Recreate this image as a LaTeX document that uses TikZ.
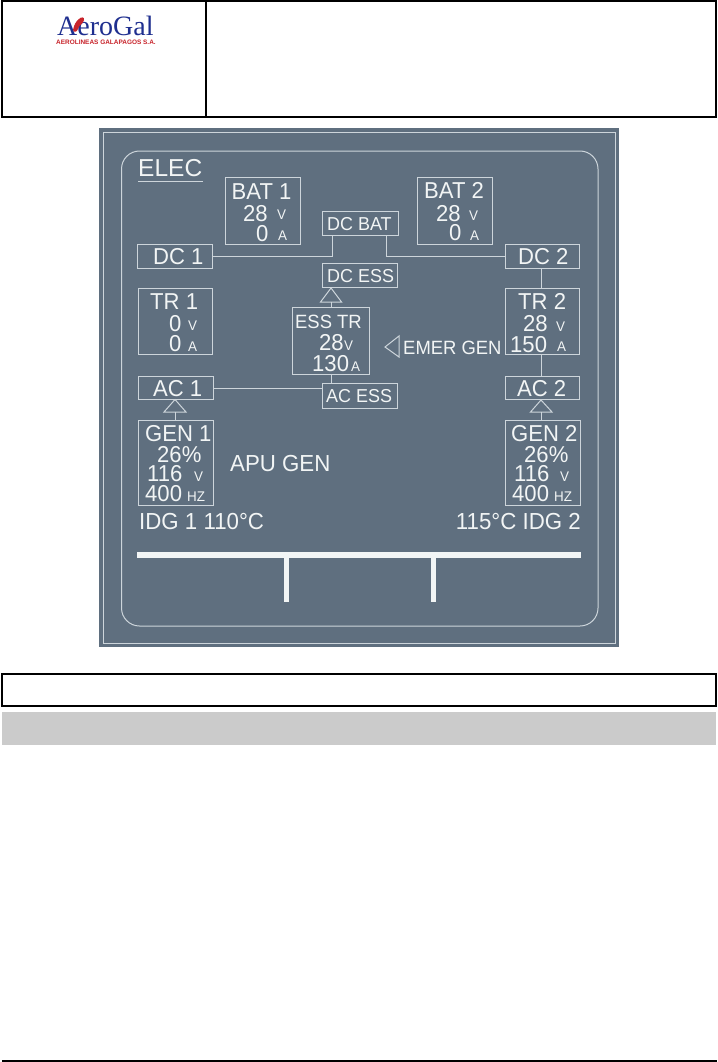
\documentclass[tikz,border=0pt]{standalone}
\usepackage{fontspec}
\setmainfont[FakeStretch=0.96]{Liberation Sans}
\newfontfamily\plainfont{Liberation Sans}
\newfontfamily\logofont{Liberation Serif}
\usetikzlibrary{fit}
\definecolor{panelfill}{HTML}{5F6F7F}
\definecolor{panelline}{HTML}{CDD5DB}
\definecolor{paneltext}{HTML}{F2F5F5}
\definecolor{bandgray}{HTML}{CBCBCB}
\definecolor{logoblue}{HTML}{1F2F8F}
\definecolor{logored}{HTML}{C8242B}
\tikzset{
  x=1pt,y=-1pt,
  frameline/.style={draw=black,line width=2pt},
  readout/.style={draw=panelline,line width=1pt,inner sep=0pt,outer sep=0pt},
  wire/.style={draw=panelline,line width=1pt},
  tip/.style={draw=panelline,line width=1pt},
  big/.style={text=paneltext,anchor=base west,inner sep=0pt,font=\fontsize{23}{23}\selectfont},
  mid/.style={text=paneltext,anchor=base west,inner sep=0pt,font=\fontsize{18.7}{18.7}\selectfont},
  unit/.style={text=paneltext,anchor=base west,inner sep=0pt,font=\fontsize{14}{14}\selectfont},
}
\newcommand{\rbox}[5]{\node[readout,fit={(#2,#3)(#4,#5)}] (#1) {};}
\begin{document}
\begin{tikzpicture}
\useasboundingbox (0,0) rectangle (717,1062);
\fill[white] (0,0) rectangle (717,1062);
% header
\draw[frameline] (1.5,1.5) rectangle (716,117);
\draw[frameline] (206,1.5) -- (206,117);
\node[anchor=base west,inner sep=0pt,text=logoblue,font=\logofont\fontsize{28}{28}\selectfont] (logo) at (57,35.5) {AeroGal};
\node[anchor=base west,inner sep=0pt,text=logored,font=\plainfont\bfseries\fontsize{6.45}{6.45}\selectfont] (logosub) at (56,44.5) {AEROLINEAS GALAPAGOS S.A.};
\fill[logored] (73,30) .. controls (74,25) and (76,21) .. (79,19) .. controls (81,16.5) and (85,17) .. (84,20) .. controls (83,24) and (79,25) .. (78,29) .. controls (77,32) and (74,33) .. (73,30) -- cycle;
% panel
\fill[panelfill] (99,128) rectangle (619,647);
\draw[panelline,line width=1pt] (103,132.5) rectangle (615.5,643);
\draw[panelline,line width=1pt,rounded corners=18pt] (121.5,151) rectangle (598,626);
% title
\node[text=paneltext,anchor=base west,inner sep=0pt,font=\plainfont\fontsize{24.5}{24.5}\selectfont] (elec) at (138,176) {ELEC};
\draw[panelline,line width=1.2pt] (138,181.5) -- (203,181.5);
% boxes
\rbox{bat1}{225}{177}{300}{244}
\rbox{bat2}{417}{177}{492}{244}
\rbox{dcbat}{322}{211}{398}{235}
\rbox{dcess}{322}{263}{397}{287}
\rbox{dc1}{137.5}{244}{212}{268}
\rbox{dc2}{505}{244}{579}{268}
\rbox{tr1}{138}{288}{212}{354}
\rbox{tr2}{505}{288}{579}{354}
\rbox{esstr}{292}{307}{369}{374}
\rbox{ac1}{138}{376}{213}{399}
\rbox{ac2}{505}{376}{579}{399}
\rbox{acess}{322}{383}{397}{408}
\rbox{gen1}{138}{420}{213}{505}
\rbox{gen2}{505}{420}{580}{505}
% named junctions
\coordinate (dcl) at (332,256);
\coordinate (dcr) at (386,256);
\coordinate (essx) at (331,345);
\coordinate (tipess) at (331,302);
\coordinate (tipa) at (175,412);
\coordinate (tipb) at (541,412);
% connectors
\draw[wire] (dc1.east |- dcl) -- (dcl) -- (dcl |- dcbat.south);
\draw[wire] (dcr |- dcbat.south) -- (dcr) -- (dc2.west |- dcr);
\draw[wire] (tipb |- dc2.south) -- (tipb |- tr2.north);
\draw[wire] (tipb |- tr2.south) -- (tipb |- ac2.north);
\draw[wire] (tipb) -- (tipb |- gen2.north);
\draw[wire] (tipa) -- (tipa |- gen1.north);
\draw[wire] (tipess) -- (tipess |- esstr.north);
\draw[wire] (essx |- esstr.south) -- (essx |- acess.north);
\draw[wire] (ac1.east |- 0,388) -- (acess.west |- 0,388);
% triangles
\draw[tip] (tipess) ++(-10.5,0) -- (331,288) -- (341.5,302) -- cycle;
\draw[tip] (tipa) ++(-11,0) -- (175,399.5) -- (186,412) -- cycle;
\draw[tip] (tipb) ++(-10.5,0) -- (541,400) -- (552,412) -- cycle;
\draw[tip] (399,336) -- (385,347) -- (399,357) -- cycle;
% texts
\node[big] (t1) at (231.5,199) {BAT 1};
\node[big] (t2) at (243,221) {28};
\node[unit] (t3) at (277,219) {V};
\node[big] (t4) at (256,241) {0};
\node[unit] (t5) at (278,240) {A};
\node[big] (t6) at (424,198) {BAT 2};
\node[big] (t7) at (436,221) {28};
\node[unit] (t8) at (469,220) {V};
\node[big] (t9) at (449,240) {0};
\node[unit] (t10) at (470,240) {A};
\node[mid] (t11) at (327,230) {DC BAT};
\node[mid] (t12) at (327,282) {DC ESS};
\node[mid] (t13) at (326,402) {AC ESS};
\node[big] (t14) at (153,264) {DC 1};
\node[big] (t15) at (518,264) {DC 2};
\node[big] (t16) at (150,309) {TR 1};
\node[big] (t17) at (169,331) {0};
\node[unit] (t18) at (188,330) {V};
\node[big] (t19) at (169,351) {0};
\node[unit] (t20) at (188,351) {A};
\node[big] (t21) at (518,309) {TR 2};
\node[big] (t22) at (523,331) {28};
\node[unit] (t23) at (556,331) {V};
\node[big] (t24) at (510,352) {150};
\node[unit] (t25) at (557,351) {A};
\node[mid,font=\fontsize{19.2}{19.2}\selectfont] (t26) at (295,328) {ESS TR};
\node[big] (t27) at (319,350) {28};
\node[unit] (t28) at (344,350) {V};
\node[big] (t29) at (312,371) {130};
\node[unit] (t30) at (351,371) {A};
\node[mid,font=\fontsize{19.2}{19.2}\selectfont] (t31) at (403,354) {EMER GEN};
\node[big] (t32) at (153,396) {AC 1};
\node[big] (t33) at (517,396) {AC 2};
\node[big] (t34) at (145,441) {GEN 1};
\node[big] (t35) at (157,462) {26\%};
\node[big] (t36) at (147,481.5) {116};
\node[unit] (t37) at (194,481) {V};
\node[big] (t38) at (145,501.5) {400};
\node[unit] (t39) at (187,501) {HZ};
\node[big] (t40) at (511,441) {GEN 2};
\node[big] (t41) at (524,462) {26\%};
\node[big] (t42) at (514,481.5) {116};
\node[unit] (t43) at (560,481) {V};
\node[big] (t44) at (512,501.5) {400};
\node[unit] (t45) at (554,501) {HZ};
\node[big,font=\fontsize{23.2}{23.2}\selectfont] (t46) at (230,471) {APU GEN};
\node[big,font=\fontsize{23.2}{23.2}\selectfont] (t47) at (139,529) {IDG 1 110°C};
\node[big,font=\fontsize{23.2}{23.2}\selectfont,anchor=base east] (t48) at (581,529) {115°C IDG 2};
% bottom bar
\fill[paneltext] (137,552) rectangle (581,558);
\fill[paneltext] (283.5,552) rectangle (289,602);
\fill[paneltext] (430.5,552) rectangle (436,602);
% lower frames
\draw[frameline] (1.5,673.5) rectangle (716,706);
\fill[bandgray] (2,712) rectangle (716,745);
\draw[black,line width=2pt] (2,1061) -- (717,1061);
\end{tikzpicture}
\end{document}
